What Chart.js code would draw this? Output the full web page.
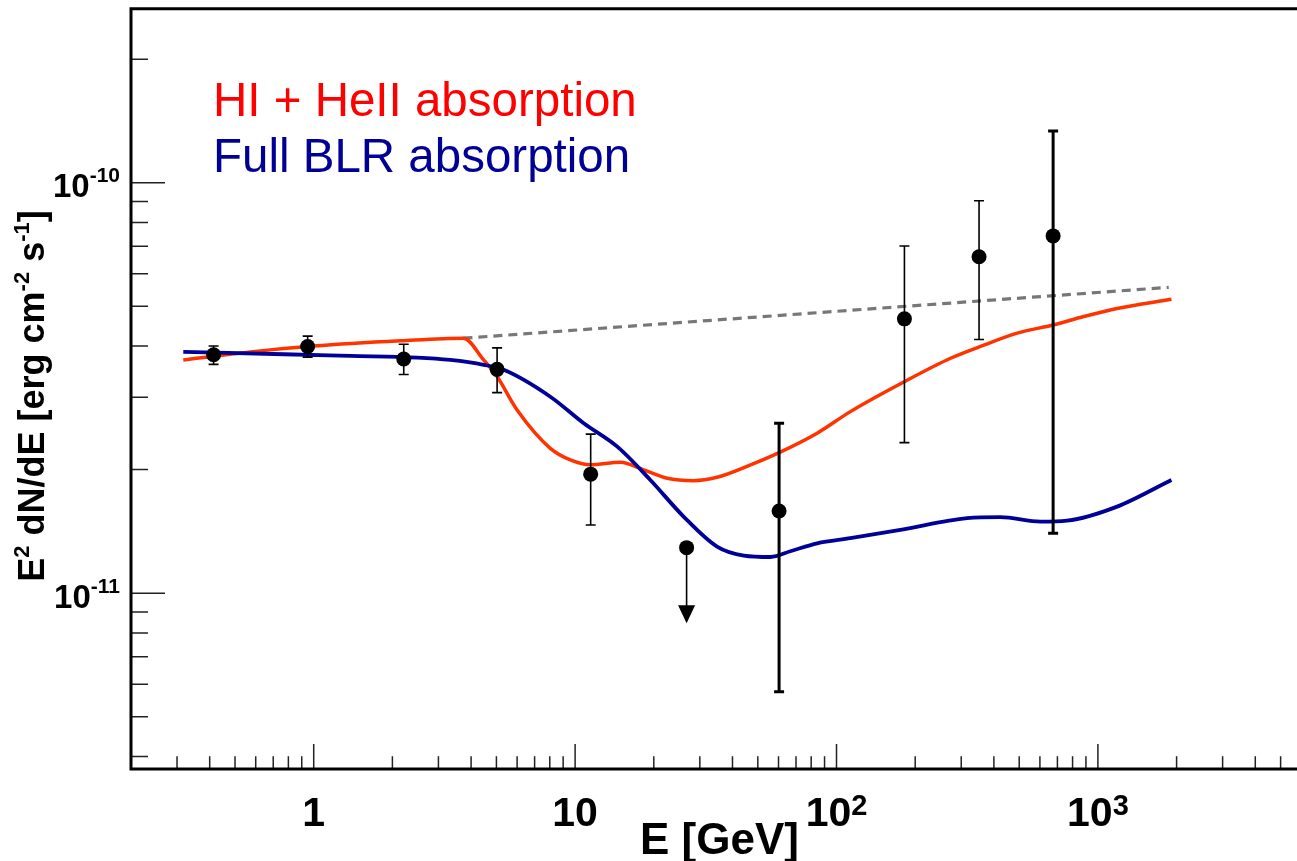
<!DOCTYPE html>
<html><head><meta charset="utf-8">
<script src="https://cdn.jsdelivr.net/npm/chart.js@4"></script>
<style>html,body{margin:0;padding:0;overflow:hidden;background:#fff}</style>
</head><body>
<div style="width:1370px;height:861px"><canvas id="c" width="1370" height="861"></canvas></div>
<script>
// ---------- data ----------
const ptEnergy = [0.414, 0.948, 2.21, 5.03, 11.47, 60.3, 181.9, 351, 674];
const ptFlux   = [3.81e-11, 3.99e-11, 3.72e-11, 3.51e-11, 1.95e-11, 1.586e-11, 4.66e-11, 6.6e-11, 7.42e-11];
const ptFluxLo = [3.61e-11, 3.76e-11, 3.41e-11, 3.08e-11, 1.466e-11, 5.75e-12, 2.327e-11, 4.15e-11, 1.4e-11];
const ptFluxHi = [4.0e-11, 4.23e-11, 4.04e-11, 3.96e-11, 2.44e-11, 2.594e-11, 7.01e-11, 9.04e-11, 1.336e-10];

const ulEnergy = [26.7];
const ulFlux = [1.291e-11];
const ulArrowTip = [8.45e-12];

const hiHeEnergy = [0.317, 0.573, 1.0, 2.15, 3.74, 4.47, 5.03, 6.0, 8.04, 9.59, 11.44, 14.9, 18.3, 22.5, 28.4, 34.9, 46.9, 60.3, 84.3, 113, 182, 273, 366, 491, 674, 883, 1184, 1911];
const hiHeFlux = [3.70e-11, 3.87e-11, 4.00e-11, 4.12e-11, 4.18e-11, 3.70e-11, 3.37e-11, 2.795e-11, 2.254e-11, 2.112e-11, 2.054e-11, 2.085e-11, 1.997e-11, 1.905e-11, 1.880e-11, 1.916e-11, 2.054e-11, 2.20e-11, 2.453e-11, 2.769e-11, 3.276e-11, 3.735e-11, 4.02e-11, 4.30e-11, 4.50e-11, 4.72e-11, 4.94e-11, 5.20e-11];

const blrEnergy = [0.317, 0.768, 1.38, 2.49, 3.33, 4.47, 5.33, 8.04, 10.79, 14.5, 19.4, 26.0, 34.9, 44.2, 55.9, 66.6, 84.3, 113, 175.6, 316, 424, 603, 762, 1184, 1911];
const blrFlux = [3.87e-11, 3.82e-11, 3.785e-11, 3.75e-11, 3.70e-11, 3.60e-11, 3.50e-11, 3.01e-11, 2.594e-11, 2.275e-11, 1.887e-11, 1.537e-11, 1.299e-11, 1.235e-11, 1.225e-11, 1.265e-11, 1.323e-11, 1.361e-11, 1.426e-11, 1.523e-11, 1.532e-11, 1.494e-11, 1.502e-11, 1.625e-11, 1.887e-11];

const intrEnergy = [3.74, 1866];
const intrFlux = [4.18e-11, 5.56e-11];

const xTickVals = [1, 10, 100, 1000];
const xTickBase = ['1', '10', '10', '10'];
const xTickExp  = ['', '', '2', '3'];
const yTickVals = [1e-11, 1e-10];
const yTickBase = ['10', '10'];
const yTickExp  = ['-11', '-10'];

const legendLabels = ['HI + HeII absorption', 'Full BLR absorption'];

// ---------- styles ----------
const thickBarIdx = [5, 8];
const FONT = '"Liberation Sans", Arial, Helvetica, sans-serif';

const xy = (xs, ys) => xs.map((v, i) => ({x: v, y: ys[i]}));

const decorPlugin = {
  id: 'decor',
  afterDatasetsDraw(chart) {
    const {ctx, scales: {x, y}} = chart;
    ctx.save();
    ctx.strokeStyle = '#000';
    // error bars
    ptEnergy.forEach((e, i) => {
      const px = x.getPixelForValue(e);
      const pHi = y.getPixelForValue(ptFluxHi[i]);
      const pLo = y.getPixelForValue(ptFluxLo[i]);
      ctx.lineWidth = thickBarIdx.includes(i) ? 3 : 1.6;
      ctx.beginPath();
      ctx.moveTo(px, pHi); ctx.lineTo(px, pLo);
      ctx.moveTo(px - 5, pHi); ctx.lineTo(px + 5, pHi);
      ctx.moveTo(px - 5, pLo); ctx.lineTo(px + 5, pLo);
      ctx.stroke();
    });
    // upper limit arrows
    ulEnergy.forEach((e, i) => {
      const px = x.getPixelForValue(e);
      const p0 = y.getPixelForValue(ulFlux[i]);
      const p1 = y.getPixelForValue(ulArrowTip[i]);
      ctx.lineWidth = 1.6;
      ctx.beginPath();
      ctx.moveTo(px, p0); ctx.lineTo(px, p1 - 16);
      ctx.stroke();
      ctx.fillStyle = '#000';
      ctx.beginPath();
      ctx.moveTo(px - 8.5, p1 - 18); ctx.lineTo(px + 8.5, p1 - 18); ctx.lineTo(px, p1);
      ctx.closePath(); ctx.fill();
    });
    ctx.restore();
  },
  afterDraw(chart) {
    const {ctx, chartArea: a, scales: {x, y}} = chart;
    ctx.save();
    // ticks
    ctx.strokeStyle = '#222';
    ctx.lineWidth = 1.5;
    ctx.beginPath();
    for (let d = Math.floor(Math.log10(x.min)); d <= Math.ceil(Math.log10(x.max)); d++) {
      for (let m = 1; m <= 9; m++) {
        const v = m * Math.pow(10, d);
        if (v < x.min * 1.0001 || v > x.max) continue;
        const px = x.getPixelForValue(v);
        const len = m === 1 ? 25 : 12.7;
        ctx.moveTo(px, a.bottom); ctx.lineTo(px, a.bottom - len);
      }
    }
    for (let d = Math.floor(Math.log10(y.min)); d <= Math.ceil(Math.log10(y.max)); d++) {
      for (let m = 1; m <= 9; m++) {
        const v = m * Math.pow(10, d);
        if (v < y.min || v > y.max) continue;
        const py = y.getPixelForValue(v);
        const len = m === 1 ? 34 : 17;
        ctx.moveTo(a.left, py); ctx.lineTo(a.left + len, py);
      }
    }
    ctx.stroke();
    // frame
    ctx.strokeStyle = '#000';
    ctx.lineWidth = 3;
    ctx.beginPath();
    ctx.moveTo(a.left, a.top); ctx.lineTo(a.right, a.top);
    ctx.lineTo(a.right, a.bottom); ctx.lineTo(a.left, a.bottom); ctx.closePath();
    ctx.stroke();

    // tick labels
    ctx.fillStyle = '#000';
    ctx.textBaseline = 'alphabetic';
    ctx.textAlign = 'left';
    const mainX = 'bold 41px ' + FONT, supX = 'bold 29px ' + FONT;
    xTickVals.forEach((v, i) => {
      const px = x.getPixelForValue(v);
      ctx.font = mainX; const w1 = ctx.measureText(xTickBase[i]).width;
      ctx.font = supX; const w2 = xTickExp[i] ? ctx.measureText(xTickExp[i]).width : 0;
      const sx = px - (w1 + w2) / 2;
      ctx.font = mainX; ctx.fillText(xTickBase[i], sx, a.bottom + 57);
      if (xTickExp[i]) { ctx.font = supX; ctx.fillText(xTickExp[i], sx + w1, a.bottom + 46); }
    });
    const mainY = 'bold 33px ' + FONT, supY = 'bold 21px ' + FONT;
    yTickVals.forEach((v, i) => {
      const py = y.getPixelForValue(v);
      ctx.font = mainY; const w1 = ctx.measureText(yTickBase[i]).width;
      ctx.font = supY; const w2 = ctx.measureText(yTickExp[i]).width;
      const sx = 120 - w1 - w2;
      ctx.font = mainY; ctx.fillText(yTickBase[i], sx, py + 14.5);
      ctx.font = supY; ctx.fillText(yTickExp[i], sx + w1, py - 0.5);
    });

    // axis titles
    ctx.font = 'bold 44px ' + FONT;
    ctx.fillText('E [GeV]', 640, 854);

    const segs = [['E', 0], ['2', 1], [' dN/dE [erg cm', 0], ['-2', 1], [' s', 0], ['-1', 1], [']', 0]];
    const fMain = 'bold 36px ' + FONT, fSup = 'bold 22px ' + FONT;
    let total = 0;
    segs.forEach(s => { ctx.font = s[1] ? fSup : fMain; s.push(ctx.measureText(s[0]).width); total += s[2]; });
    ctx.save();
    ctx.translate(44, 396);
    ctx.rotate(-Math.PI / 2);
    let cx = -total / 2;
    segs.forEach(s => {
      ctx.font = s[1] ? fSup : fMain;
      ctx.fillText(s[0], cx, s[1] ? -15 : 0);
      cx += s[2];
    });
    ctx.restore();

    // legend texts
    ctx.font = '47.5px ' + FONT;
    ctx.fillStyle = '#ff0000';
    ctx.fillText(legendLabels[0], 213, 116);
    ctx.fillStyle = '#000096';
    ctx.fillText(legendLabels[1], 213, 172);
    ctx.restore();
  }
};

new Chart(document.getElementById('c'), {
  type: 'scatter',
  data: {
    datasets: [
      { label: 'points', data: xy(ptEnergy, ptFlux), pointRadius: 7.5, pointBackgroundColor: '#000', pointBorderWidth: 0, showLine: false, order: 0 },
      { label: 'upper limit', data: xy(ulEnergy, ulFlux), pointRadius: 7.5, pointBackgroundColor: '#000', pointBorderWidth: 0, showLine: false, order: 1 },
      { label: legendLabels[0], data: xy(hiHeEnergy, hiHeFlux), showLine: true, pointRadius: 0, borderColor: '#ff3300', borderWidth: 3.5, cubicInterpolationMode: 'monotone', order: 3 },
      { label: legendLabels[1], data: xy(blrEnergy, blrFlux), showLine: true, pointRadius: 0, borderColor: '#000099', borderWidth: 3.8, cubicInterpolationMode: 'monotone', order: 2 },
      { label: 'intrinsic', data: xy(intrEnergy, intrFlux), showLine: true, pointRadius: 0, borderColor: '#777777', borderWidth: 3.2, borderDash: [9, 6], order: 4 }
    ]
  },
  options: {
    responsive: false,
    animation: false,
    devicePixelRatio: 1,
    layout: { padding: { left: 131, top: 8.7, right: 10.7, bottom: 92 } },
    plugins: { legend: { display: false }, tooltip: { enabled: false } },
    scales: {
      x: { type: 'logarithmic', min: 0.2, max: 1e4, display: false },
      y: { type: 'logarithmic', min: 3.73e-12, max: 2.654e-10, display: false }
    }
  },
  plugins: [decorPlugin]
});
</script></body></html>
